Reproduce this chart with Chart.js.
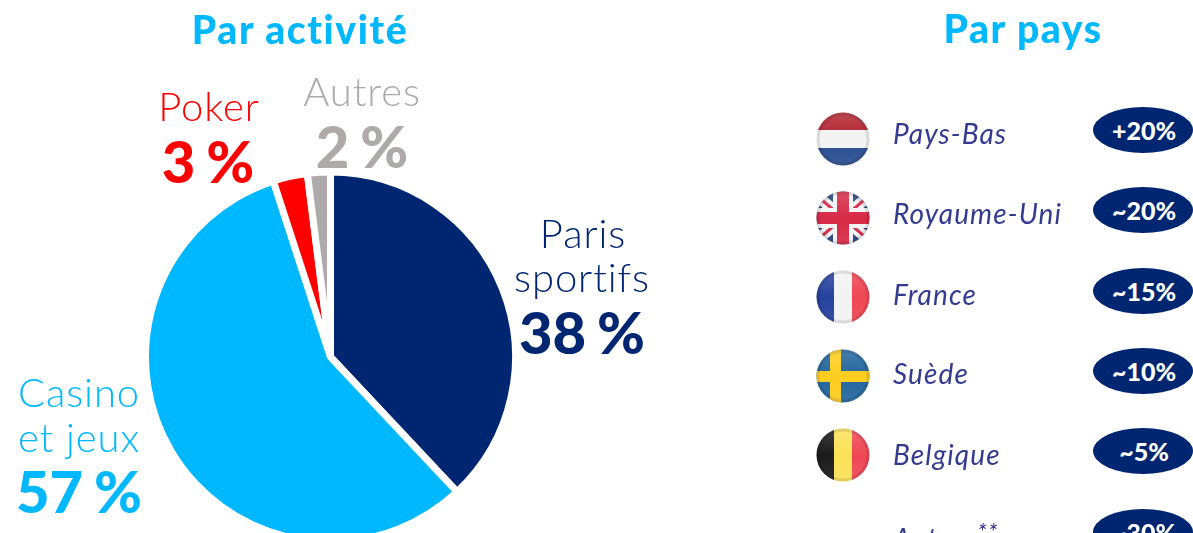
<!DOCTYPE html>
<html lang="fr"><head><meta charset="utf-8">
<script src="https://cdn.jsdelivr.net/npm/chart.js@4"></script>
<style>
html,body{margin:0;padding:0;background:#fff;overflow:hidden}
#wrap{position:relative;width:1193px;height:533px;overflow:hidden;font-family:Lato,sans-serif}
canvas{position:absolute;left:0;top:0}
.t{position:absolute;white-space:nowrap;line-height:1;transform:translateX(-50%)}
.h{font-weight:900;font-size:39px;letter-spacing:1.6px;color:#00b8ff}
.l{font-weight:300;font-size:40px;letter-spacing:.9px}
.b{font-weight:900;font-size:58px;word-spacing:-3px}
.c{position:absolute;left:893px;font-style:italic;font-weight:400;font-size:28px;letter-spacing:1.1px;line-height:1;color:#333a8f;white-space:nowrap}
.p{position:absolute;left:1093px;width:100px;height:46px;border-radius:50%;background:#002672;color:#fff;font-weight:900;font-size:25px;line-height:46px;text-align:center;text-indent:2px}
svg{position:absolute}
</style></head><body>
<div id="wrap"><canvas id="c" width="1193" height="533" style="width:1193px;height:533px"></canvas></div>
<script>
const categories = ["Paris sportifs","Casino et jeux","Poker","Autres"];
const shares = [38,57,3,2];
const sliceColors = ["#002672","#00b8ff","#ff0000","#aeaaaa"];
const countries = ["Pays-Bas","Royaume-Uni","France","Suède","Belgique","Autres"];
const countryShares = ["+20%","~20%","~15%","~10%","~5%","~30%"];

new Chart(document.getElementById("c"),{
  type:"pie",
  data:{labels:categories,datasets:[{data:shares,backgroundColor:sliceColors,borderColor:"#fff",borderWidth:7,clip:false}]},
  options:{responsive:false,animation:false,radius:185,
    layout:{padding:{left:0,right:532,top:181,bottom:0}},
    plugins:{legend:{display:false},tooltip:{enabled:false}}}
});

const wrap=document.getElementById("wrap");
function txt(s,cx,base,cls,color){
  const d=document.createElement("div");d.className="t "+cls;d.textContent=s;
  if(color)d.style.color=color;
  const fs={h:39,l:40,b:58}[cls];
  d.style.left=cx+"px";d.style.top=(base-fs*0.84)+"px";
  wrap.appendChild(d);
}
txt("Par activité",300,43,"h");
txt("Par pays",1023,42,"h");
txt("Poker",209,120,"l","#ff0000");
txt("3 %",208,181,"b","#ff0000");
txt("Autres",362,105,"l","#aeaaaa");
txt("2 %",362,166,"b","#aeaaaa");
txt("Paris",583,247,"l","#002672");
txt("sportifs",582,291,"l","#002672");
txt("38 %",582,352,"b","#002672");
txt("Casino",79,406,"l","#00b8ff");
txt("et jeux",79,451,"l","#00b8ff");
txt("57 %",79,511,"b","#00b8ff");

const baseY=[143,223,304,383,464,548], pillY=[107,187,268,348,428,509];
countries.forEach((n,i)=>{
  const d=document.createElement("div");d.className="c";d.style.top=(baseY[i]-24)+"px";
  d.innerHTML=n+(i===5?'<span style="font-size:24px;position:relative;top:-9px;margin-left:2px">**</span>':'');
  wrap.appendChild(d);
  const p=document.createElement("div");p.className="p";p.style.top=pillY[i]+"px";p.textContent=countryShares[i];
  wrap.appendChild(p);
});

const flagY=[139,218,297,376,455];
const flagArt=[
 '<rect width="54" height="18" fill="#ae1c28"/><rect y="18" width="54" height="18" fill="#f2f2f2"/><rect y="36" width="54" height="18" fill="#21468b"/>',
 '<rect width="54" height="54" fill="#1f3a7d"/><path d="M0 4L54 50M54 4L0 50" stroke="#f4f4f4" stroke-width="11"/><path d="M0 4L54 50M54 4L0 50" stroke="#d5213f" stroke-width="3"/><rect x="17" width="20" height="54" fill="#f4f4f4"/><rect y="17" width="54" height="20" fill="#f4f4f4"/><rect x="21" width="12" height="54" fill="#d5213f"/><rect y="21" width="54" height="12" fill="#d5213f"/>',
 '<rect width="18" height="54" fill="#1c3a9a"/><rect x="18" width="18" height="54" fill="#f2f2f2"/><rect x="36" width="18" height="54" fill="#ee3f4d"/>',
 '<rect width="54" height="54" fill="#1a5f99"/><rect x="14" width="11" height="54" fill="#fecb16"/><rect y="22" width="54" height="11" fill="#fecb16"/>',
 '<rect width="18" height="54" fill="#111"/><rect x="18" width="18" height="54" fill="#fbe04f"/><rect x="36" width="18" height="54" fill="#ee3f4d"/>'
];
flagArt.forEach((a,i)=>{
  const ns="http://www.w3.org/2000/svg";
  const s=document.createElementNS(ns,"svg");
  s.setAttribute("width",54);s.setAttribute("height",54);s.setAttribute("viewBox","0 0 54 54");
  s.style.left="816px";s.style.top=(flagY[i]-27)+"px";
  s.innerHTML='<defs><clipPath id="k'+i+'"><circle cx="27" cy="27" r="26.5"/></clipPath><linearGradient id="g'+i+'" x1="0" y1="0" x2="0" y2="1"><stop offset="0" stop-color="#fff" stop-opacity=".2"/><stop offset=".5" stop-color="#fff" stop-opacity=".04"/><stop offset="1" stop-color="#fff" stop-opacity=".12"/></linearGradient></defs><g clip-path="url(#k'+i+')">'+a+'<rect width="54" height="54" fill="url(#g'+i+')"/></g><circle cx="27" cy="27" r="25" fill="none" stroke="#000" stroke-opacity=".1" stroke-width="3"/>';
  wrap.appendChild(s);
});
</script></body></html>
